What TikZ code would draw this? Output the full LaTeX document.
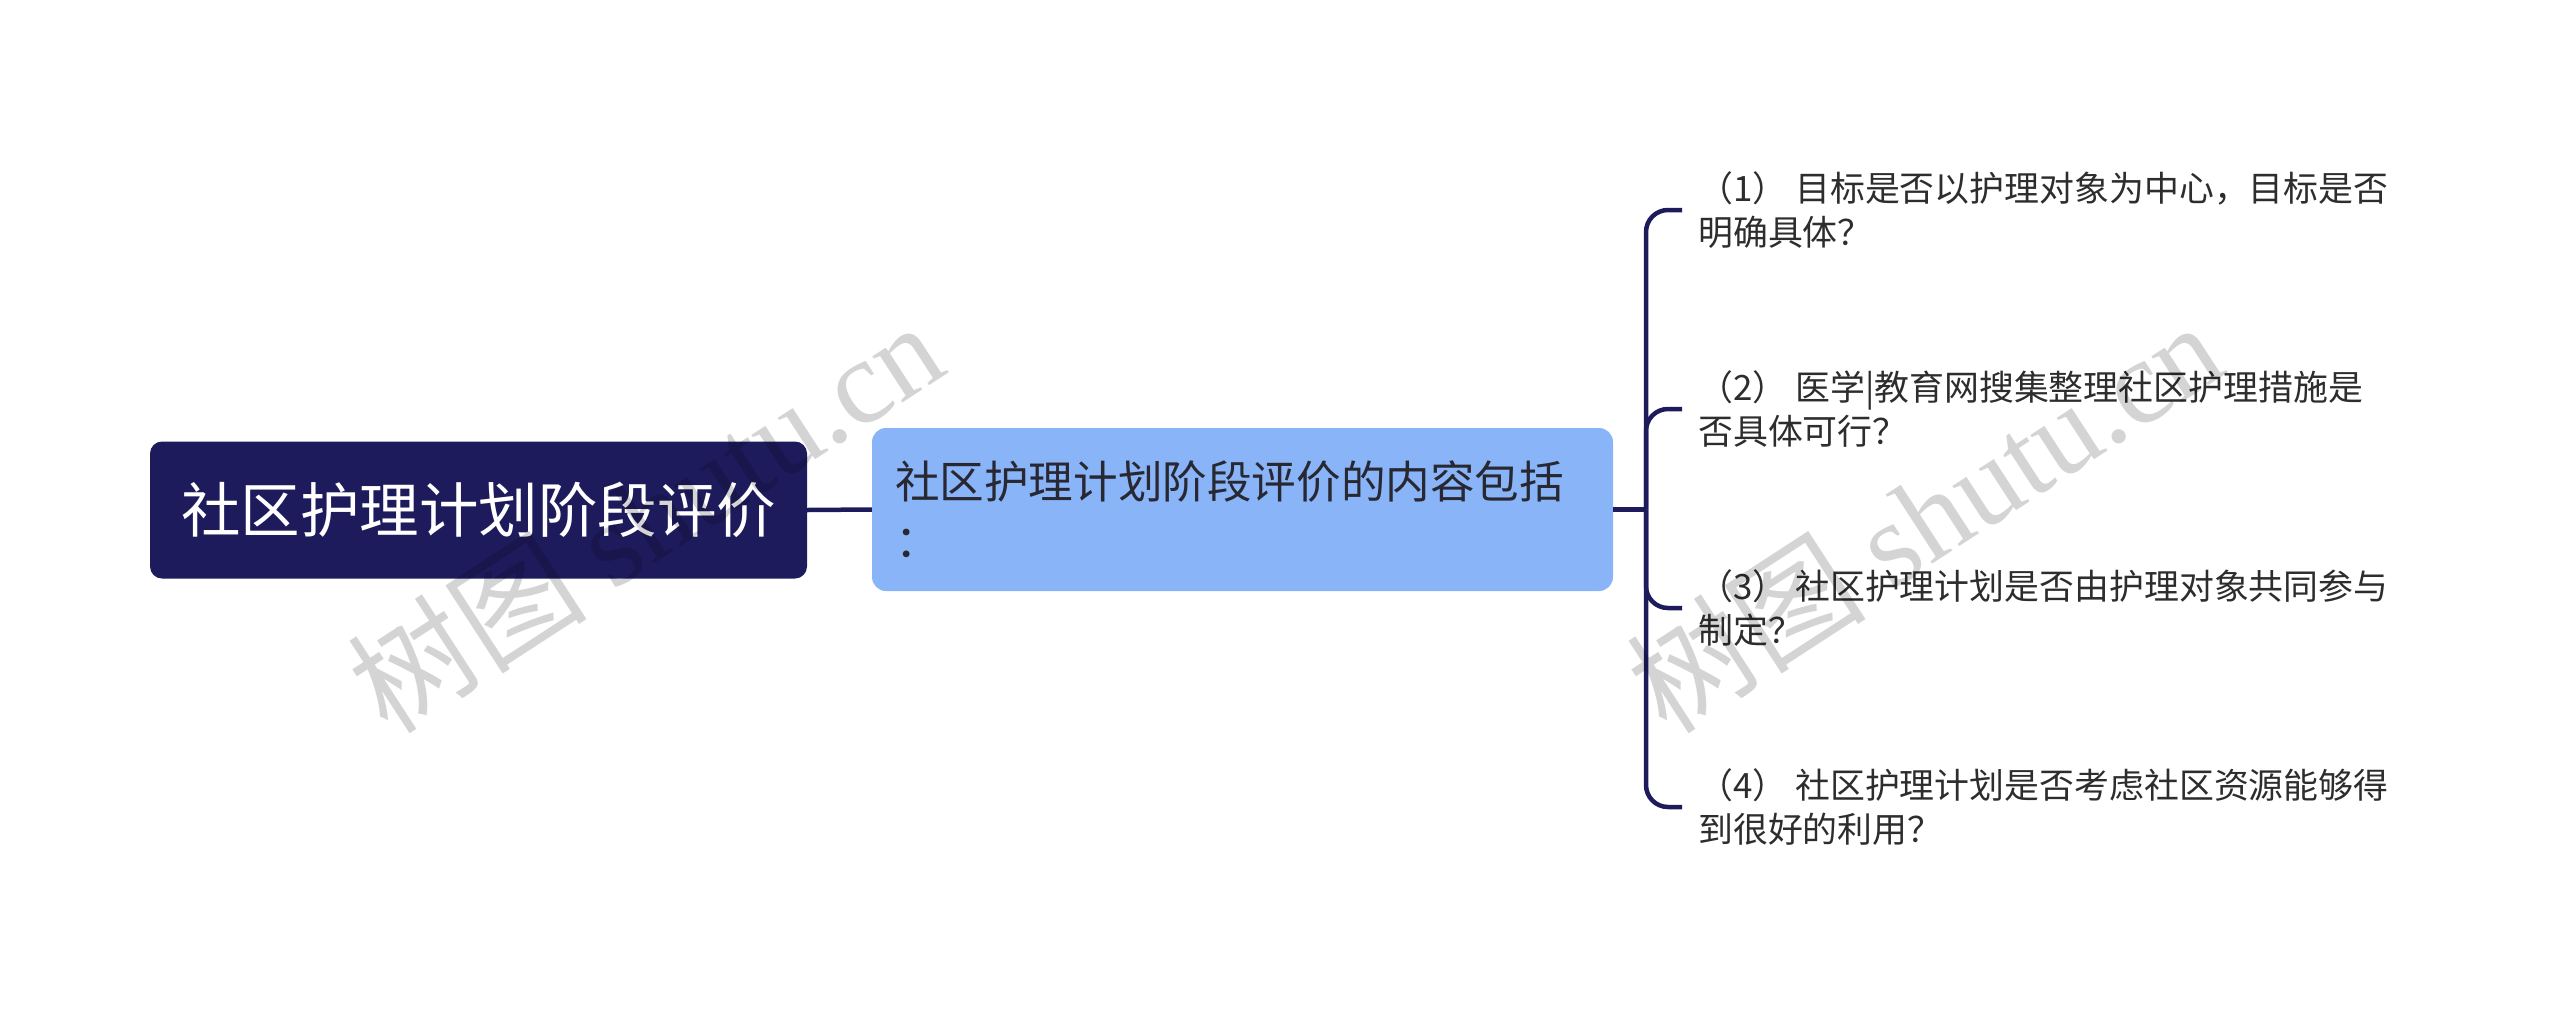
\documentclass[tikz,border=0pt]{standalone}
\usepackage{fontspec}
\setmainfont{Noto Sans CJK SC}
\newfontfamily\wmlatin{Liberation Serif}
\definecolor{navy}{RGB}{30,27,92}
\definecolor{midblue}{RGB}{138,180,248}
\definecolor{leaftext}{RGB}{45,45,45}
\definecolor{midtext}{RGB}{40,40,50}
\definecolor{wmgray}{RGB}{212,212,212}
\tikzset{
  rootbox/.style={fill=navy, rounded corners=12pt, minimum width=657pt, minimum height=137pt,
    text=white, font=\fontsize{59.5}{70}\selectfont, inner sep=0pt},
  midbox/.style={fill=midblue, rounded corners=14pt, minimum width=741pt, minimum height=163pt,
    text width=695pt, inner xsep=23pt, inner ysep=0pt, align=left, text=midtext,
    font=\fontsize{44.6}{59}\selectfont},
  leaf/.style={anchor=west, align=left, inner sep=0pt, text=leaftext,
    font=\fontsize{34.9}{44}\selectfont},
  link/.style={draw=navy, line width=4.5pt},
  wm/.style={rotate=33, text=wmgray, font=\fontsize{120}{120}\selectfont, inner sep=0pt}
}
\begin{document}
\begin{tikzpicture}[x=1pt,y=-1pt]
\useasboundingbox (0,0) rectangle (2560,1021);
\node[rootbox] (root) at (478.5,510) {社区护理计划阶段评价};
\node[midbox] (mid) at (1242.5,509.5) {社区护理计划阶段评价的内容包括\\：};
\coordinate (hub) at (1646,509.5);
\node[leaf] (l1) at (1698,210) {（1） 目标是否以护理对象为中心，目标是否\\明确具体？};
\node[leaf] (l2) at (1698,409) {（2） 医学|教育网搜集整理社区护理措施是\\否具体可行？};
\node[leaf] (l3) at (1698,608) {（3） 社区护理计划是否由护理对象共同参与\\制定？};
\node[leaf] (l4) at (1698,807) {（4） 社区护理计划是否考虑社区资源能够得\\到很好的利用？};
\draw[link] (root.east) -- (mid.west);
\draw[link] (mid.east) -- (hub);
\foreach \n in {l1,l2,l3,l4}{
  \draw[link, rounded corners=22pt] (hub) |- ([xshift=-16pt]\n.west);
}
\begin{scope}[blend mode=multiply]
\node[wm] (wm1) at (645,516) {树图 {\wmlatin shutu.cn}};
\node[wm] (wm2) at (1924,516) {树图 {\wmlatin shutu.cn}};
\end{scope}
\end{tikzpicture}
\end{document}
